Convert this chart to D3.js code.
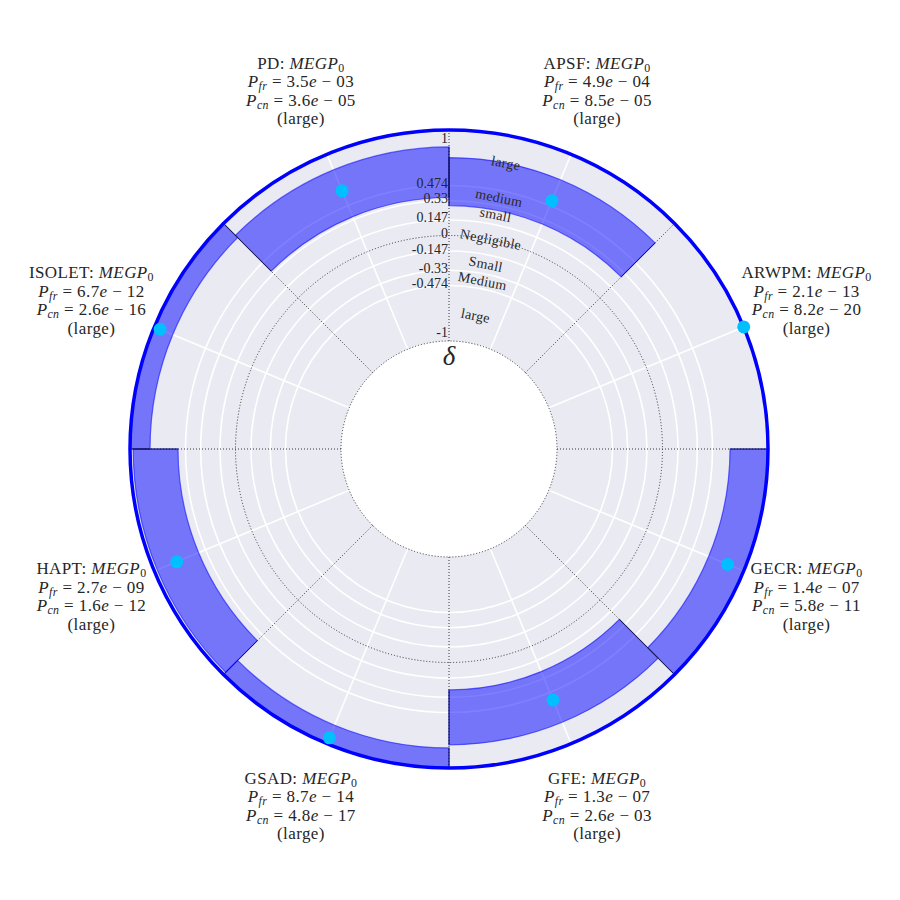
<!DOCTYPE html>
<html>
  <head>
    <meta charset="utf-8" />
    <style>
      body {
        margin: 0;
        background: #ffffff;
      }
      text {
        font-family: "Liberation Serif", "DejaVu Serif", serif;
        fill: #262626;
      }
    </style>
  </head>
  <body>
    <svg width="900" height="900"></svg>
    <script src="https://d3js.org/d3.v7.min.js"></script>
    <script>
      // one sector per dataset, clockwise from the top
      let datasets = ["APSF", "ARWPM", "GECR", "GFE", "GSAD", "HAPT", "ISOLET", "PD"];
      let pFr = ["4.9e-04", "2.1e-13", "1.4e-07", "1.3e-07", "8.7e-14", "2.7e-09", "6.7e-12", "3.5e-03"];
      let pCn = ["8.5e-05", "8.2e-20", "5.8e-11", "2.6e-03", "4.8e-17", "1.6e-12", "2.6e-16", "3.6e-05"];
      let magnitude = ["large", "large", "large", "large", "large", "large", "large", "large"];
      let delta = [0.524, 1.0, 0.835, 0.552, 0.94, 0.77, 0.94, 0.625];
      let ciLow = [0.284, 1.0, 0.64, 0.26, 0.81, 0.545, 0.81, 0.36];
      let ciHigh = [0.739, 1.0, 1.0, 0.78, 1.0, 0.97, 1.0, 0.84];

      let rTicks = [-1, -0.474, -0.33, -0.147, 0, 0.147, 0.33, 0.474, 1];
      let effectNames = ["large", "Medium", "Small", "Negligible", "small", "medium", "large"];
      let effectBounds = [-1, -0.474, -0.33, -0.147, 0.147, 0.33, 0.474, 1];

      let cx = 449;
      let cy = 449;
      let svg = d3.select("svg");

      let r = d3.scaleLinear().domain([-1, 1]).range([108, 319]);
      let theta = d3
        .scaleBand()
        .domain(datasets)
        .range([0, 2 * Math.PI])
        .paddingInner(0)
        .paddingOuter(0);
      let bw = theta.bandwidth();

      let px = (a, rad) => cx + rad * Math.sin(a);
      let py = (a, rad) => cy - rad * Math.cos(a);

      let rows = datasets.map((name, i) => ({
        name: name,
        pfr: pFr[i],
        pcn: pCn[i],
        mag: magnitude[i],
        delta: delta[i],
        lo: ciLow[i],
        hi: ciHigh[i],
      }));

      // outer labels first, the plot sits on top of them
      let labelLayer = svg.append("g");
      let fs = 17;
      let lineH = 18.5;

      function fmtSci(s) {
        let parts = s.split("e");
        let exp = parts[1].replace("-", "");
        return [parts[0], exp];
      }

      function addParts(t, parts) {
        parts.forEach((p) => {
          let ts = t.append("tspan").text(p.t);
          if (p.i) ts.style("font-style", "italic");
          if (p.sub) {
            ts.attr("dy", 3).style("font-size", fs * 0.7 + "px");
          }
          if (p.up) ts.attr("dy", -3);
        });
      }

      rows.forEach((d) => {
        let a = theta(d.name) + bw / 2;
        let R = r(1) + 68;
        let x = px(a, R);
        let y = py(a, R) - 1.5 * lineH + 5;
        let fr = fmtSci(d.pfr);
        let cn = fmtSci(d.pcn);
        let lines = [
          [{ t: d.name + ": " }, { t: "MEGP", i: true }, { t: "0", sub: true }],
          [
            { t: "P", i: true },
            { t: "fr", i: true, sub: true },
            { t: " = " + fr[0], up: true },
            { t: "e", i: true },
            { t: " \u2212 " + fr[1] },
          ],
          [
            { t: "P", i: true },
            { t: "cn", i: true, sub: true },
            { t: " = " + cn[0], up: true },
            { t: "e", i: true },
            { t: " \u2212 " + cn[1] },
          ],
          [{ t: "(" + d.mag + ")" }],
        ];
        lines.forEach((parts, k) => {
          let t = labelLayer
            .append("text")
            .attr("x", x)
            .attr("y", y + k * lineH)
            .attr("text-anchor", "middle")
            .style("font-size", fs + "px")
            .style("letter-spacing", "0.4px");
          addParts(t, parts);
        });
      });

      // background ring
      let plot = svg.append("g");
      plot
        .append("path")
        .attr(
          "d",
          d3.arc()({ innerRadius: r(-1), outerRadius: r(1), startAngle: 0, endAngle: 2 * Math.PI })
        )
        .attr("transform", `translate(${cx},${cy})`)
        .attr("fill", "#eaeaf2");

      // white grid circles
      plot
        .selectAll(".grid-circle")
        .data(rTicks.filter((v) => v != 0 && Math.abs(v) != 1))
        .join("circle")
        .attr("class", "grid-circle")
        .attr("cx", cx)
        .attr("cy", cy)
        .attr("r", (v) => r(v))
        .attr("fill", "none")
        .attr("stroke", "#ffffff")
        .attr("stroke-width", 1.6);

      // white radial grid at sector centers
      plot
        .selectAll(".grid-spoke")
        .data(datasets)
        .join("line")
        .attr("class", "grid-spoke")
        .attr("x1", (d) => px(theta(d) + bw / 2, r(-1)))
        .attr("y1", (d) => py(theta(d) + bw / 2, r(-1)))
        .attr("x2", (d) => px(theta(d) + bw / 2, r(1)))
        .attr("y2", (d) => py(theta(d) + bw / 2, r(1)))
        .attr("stroke", "#ffffff")
        .attr("stroke-width", 1.6);

      // dotted sector boundaries and circles at 0 and -1
      plot
        .selectAll(".dot-spoke")
        .data(datasets)
        .join("line")
        .attr("class", "dot-spoke")
        .attr("x1", (d) => px(theta(d), r(-1)))
        .attr("y1", (d) => py(theta(d), r(-1)))
        .attr("x2", (d) => px(theta(d), r(1)))
        .attr("y2", (d) => py(theta(d), r(1)))
        .attr("stroke", "#222")
        .attr("stroke-width", 0.9)
        .attr("stroke-dasharray", "1,2");

      plot
        .selectAll(".dot-circle")
        .data([-1, 0])
        .join("circle")
        .attr("class", "dot-circle")
        .attr("cx", cx)
        .attr("cy", cy)
        .attr("r", (v) => r(v))
        .attr("fill", "none")
        .attr("stroke", "#222")
        .attr("stroke-width", 0.9)
        .attr("stroke-dasharray", "1,2");

      // confidence bars
      let barArc = d3
        .arc()
        .innerRadius((d) => r(d.lo))
        .outerRadius((d) => r(d.hi))
        .startAngle((d) => theta(d.name))
        .endAngle((d) => theta(d.name) + bw);

      plot
        .selectAll(".bar")
        .data(rows.filter((d) => d.hi > d.lo))
        .join("path")
        .attr("class", "bar")
        .attr("transform", `translate(${cx},${cy})`)
        .attr("d", barArc)
        .attr("fill", "rgba(0,0,255,0.5)")
        .attr("stroke", "rgba(0,0,255,0.55)")
        .attr("stroke-width", 1.2);

      let sides = [];
      rows
        .filter((d) => d.hi > d.lo)
        .forEach((d) => {
          sides.push({ a: theta(d.name), lo: d.lo, hi: d.hi });
          sides.push({ a: theta(d.name) + bw, lo: d.lo, hi: d.hi });
        });
      plot
        .selectAll(".bar-side")
        .data(sides)
        .join("line")
        .attr("class", "bar-side")
        .attr("x1", (d) => px(d.a, r(d.lo)))
        .attr("y1", (d) => py(d.a, r(d.lo)))
        .attr("x2", (d) => px(d.a, r(d.hi)))
        .attr("y2", (d) => py(d.a, r(d.hi)))
        .attr("stroke", "#1a1a5a")
        .attr("stroke-width", 1);

      // blue outer spine
      plot
        .append("circle")
        .attr("cx", cx)
        .attr("cy", cy)
        .attr("r", r(1))
        .attr("fill", "none")
        .attr("stroke", "#0000ff")
        .attr("stroke-width", 3.5);

      // point estimates
      plot
        .selectAll(".est")
        .data(rows)
        .join("circle")
        .attr("class", "est")
        .attr("cx", (d) => px(theta(d.name) + bw / 2, r(d.delta)))
        .attr("cy", (d) => py(theta(d.name) + bw / 2, r(d.delta)))
        .attr("r", 6.5)
        .attr("fill", "#00bfff");

      // radial tick labels along the top spoke
      plot
        .selectAll(".rtick")
        .data(rTicks)
        .join("text")
        .attr("class", "rtick")
        .attr("x", cx - 1)
        .attr("y", (v) => {
          let rr = Math.min(Math.max(r(v) + 2, r(-1) + 9), r(1) - 8);
          return cy - rr;
        })
        .attr("text-anchor", "end")
        .attr("dominant-baseline", "central")
        .style("font-size", "14px")
        .text((v) => v);

      // effect size names between the thresholds
      let ea = bw / 4;
      plot
        .selectAll(".effect")
        .data(effectNames)
        .join("text")
        .attr("class", "effect")
        .attr("transform", (d, i) => {
          let mid = (effectBounds[i] + effectBounds[i + 1]) / 2;
          let x = px(ea, r(mid));
          let y = py(ea, r(mid));
          return `translate(${x},${y}) rotate(${(ea * 180) / Math.PI})`;
        })
        .attr("text-anchor", "middle")
        .attr("dominant-baseline", "central")
        .style("font-size", "14px")
        .style("letter-spacing", "0.3px")
        .text((d) => d);

      // axis symbol
      plot
        .append("text")
        .attr("x", cx)
        .attr("y", cy - r(-1) + 24)
        .attr("text-anchor", "middle")
        .style("font-size", "27px")
        .style("font-style", "italic")
        .text("\u03b4");
    </script>
  </body>
</html>
